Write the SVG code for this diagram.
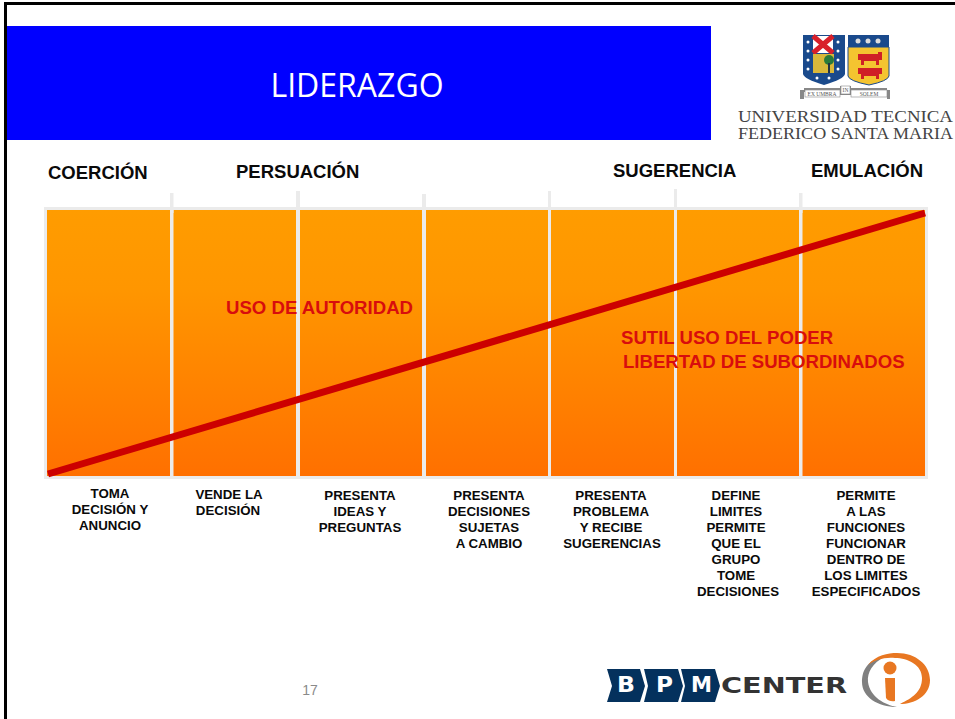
<svg xmlns="http://www.w3.org/2000/svg" width="955" height="719" viewBox="0 0 955 719">
<style>
.h{font:bold 18.500px "Liberation Sans",Arial,sans-serif;fill:#0a0a0a}
.c{font:bold 13.300px "Liberation Sans",Arial,sans-serif;fill:#0a0a0a;text-anchor:middle}
.r{font:bold 18.600px "Liberation Sans",Arial,sans-serif;fill:#d80d0d}
.s{fill:#ebebeb}
.w{fill:#fff}
.n{fill:#04315d}
.t{font:5.500px "Liberation Serif",serif;fill:#555;text-anchor:middle}
.b{font:900 21px "DejaVu Sans",sans-serif;fill:#fff}
.o{fill:#e87722}
</style>
<defs><linearGradient id="g" x1="0" y1="0" x2="0" y2="1"><stop offset="0" stop-color="#ff9c00"/><stop offset="0.3" stop-color="#ff9600"/><stop offset="1" stop-color="#ff7000"/></linearGradient></defs>
<rect width="955" height="719" fill="#fff"/>
<path d="M5.500 719V3.500H955" fill="none" stroke="#000" stroke-width="3"/>
<rect id="banner" x="7" y="26" width="704" height="114" fill="#0000ff"/>
<text x="357" y="97" text-anchor="middle" style="font:32px 'Open Sans','Liberation Sans',sans-serif;fill:#fff">LIDERAZGO</text>
<g id="headers">
<text class="h" x="48" y="179">COERCIÓN</text><text class="h" x="236" y="178">PERSUACIÓN</text><text class="h" x="613" y="177">SUGERENCIA</text><text class="h" x="811" y="177">EMULACIÓN</text>
</g>
<g id="chart">
<rect class="s" x="44" y="207" width="884" height="272"/>
<rect x="47" y="210" width="123" height="266" fill="url(#g)"/>
<rect x="173.500" y="210" width="122.500" height="266" fill="url(#g)"/>
<rect x="300" y="210" width="122" height="266" fill="url(#g)"/>
<rect x="426" y="210" width="122" height="266" fill="url(#g)"/>
<rect x="551" y="210" width="123" height="266" fill="url(#g)"/>
<rect x="677" y="210" width="122" height="266" fill="url(#g)"/>
<rect x="802.500" y="210" width="122.500" height="266" fill="url(#g)"/>
<rect class="s" x="170" y="193" width="3.500" height="20"/><rect class="s" x="296" y="191" width="4" height="20"/><rect class="s" x="422" y="194" width="4" height="20"/><rect class="s" x="548" y="191" width="3" height="20"/><rect class="s" x="674" y="189" width="3" height="22"/><rect class="s" x="799" y="193" width="3.500" height="20"/>
</g>
<g id="connectors"><line id="trend" x1="48" y1="474" x2="925" y2="213" stroke="#cc0000" stroke-width="7"/></g>
<g id="labels">
<text class="r" x="226" y="314">USO DE AUTORIDAD</text><text class="r" x="621" y="344">SUTIL USO DEL PODER</text><text class="r" x="623" y="368">LIBERTAD DE SUBORDINADOS</text>
</g>
<g id="captions">
<text class="c"><tspan x="110" y="498">TOMA</tspan><tspan x="110" y="514">DECISIÓN Y</tspan><tspan x="110" y="530">ANUNCIO</tspan></text>
<text class="c"><tspan x="229" y="499">VENDE LA</tspan><tspan x="228" y="515">DECISIÓN</tspan></text>
<text class="c"><tspan x="360" y="500">PRESENTA</tspan><tspan x="360" y="516">IDEAS Y</tspan><tspan x="360" y="532">PREGUNTAS</tspan></text>
<text class="c"><tspan x="489" y="500">PRESENTA</tspan><tspan x="489" y="516">DECISIONES</tspan><tspan x="489" y="532">SUJETAS</tspan><tspan x="489" y="548">A CAMBIO</tspan></text>
<text class="c"><tspan x="611" y="500">PRESENTA</tspan><tspan x="611" y="516">PROBLEMA</tspan><tspan x="611" y="532">Y RECIBE</tspan><tspan x="612" y="548">SUGERENCIAS</tspan></text>
<text class="c"><tspan x="736" y="500">DEFINE</tspan><tspan x="736" y="516">LIMITES</tspan><tspan x="736" y="532">PERMITE</tspan><tspan x="736" y="548">QUE EL</tspan><tspan x="736" y="564">GRUPO</tspan><tspan x="736" y="580">TOME</tspan><tspan x="738" y="596">DECISIONES</tspan></text>
<text class="c"><tspan x="866" y="500">PERMITE</tspan><tspan x="866" y="516">A LAS</tspan><tspan x="866" y="532">FUNCIONES</tspan><tspan x="866" y="548">FUNCIONAR</tspan><tspan x="866" y="564">DENTRO DE</tspan><tspan x="866" y="580">LOS LIMITES</tspan><tspan x="866" y="596">ESPECIFICADOS</tspan></text>
</g>
<text x="310" y="695" text-anchor="middle" style="font:14px 'Liberation Sans',sans-serif;fill:#8a8a8a">17</text>
<g id="logo-usm">
<path d="M803 35h42v39q-1 5-21 11q-20-6-21-11z" fill="#1a4a8c"/>
<rect class="w" x="813" y="36" width="20" height="17"/><path d="M813 36l20 17M833 36l-20 17" stroke="#d8202a" stroke-width="5"/>
<rect x="813" y="54" width="21" height="19" fill="#d9b83a"/><circle cx="829" cy="60" r="5" fill="#2a7a3a"/><rect x="828" y="63" width="2" height="10" fill="#234"/>
<g class="w"><circle cx="808" cy="42" r="1.500"/><circle cx="808" cy="51" r="1.500"/><circle cx="808" cy="60" r="1.500"/><circle cx="808" cy="69" r="1.500"/><circle cx="838" cy="42" r="1.500"/><circle cx="838" cy="51" r="1.500"/><circle cx="838" cy="60" r="1.500"/><circle cx="838" cy="69" r="1.500"/><circle cx="817" cy="78" r="1.500"/><circle cx="829" cy="78" r="1.500"/></g>
<rect x="848" y="35" width="41" height="12" fill="#1a4a8c"/><path d="M848 47h41v29q-1 5-20 9q-20-4-21-9z" fill="#f4c430" stroke="#1a4a8c"/>
<g fill="#ddd"><circle cx="858" cy="41" r="2.500"/><circle cx="868" cy="41" r="2.500"/><circle cx="878" cy="41" r="2.500"/></g>
<path d="M858 54h20v-2h4v8h-3v5h-3v-4h-12v4h-3v-5h-3zM858 68h24v6h-3v5h-3v-3h-12v3h-3v-5h-3z" fill="#cf1f26"/>
<path d="M800 90h4v-2h36v-2h11v2h36v2h3v9h-3v-7h-36v3h-11v-3h-36v7h-4z" fill="#888"/>
<rect class="w" x="805" y="90" width="35" height="7" stroke="#888" stroke-width=".6"/><rect class="w" x="851" y="90" width="36" height="7" stroke="#888" stroke-width=".6"/><rect class="w" x="841" y="86" width="9" height="8" stroke="#888" stroke-width=".6"/>
<text class="t" x="822" y="96">EX UMBRA</text><text class="t" x="845.500" y="92">IN</text><text class="t" x="869" y="96">SOLEM</text>
<text x="738" y="122" style="font:16px 'Liberation Serif',serif;fill:#444" textLength="215" lengthAdjust="spacingAndGlyphs">UNIVERSIDAD TECNICA</text>
<text x="738" y="139" style="font:16px 'Liberation Serif',serif;fill:#444" textLength="215" lengthAdjust="spacingAndGlyphs">FEDERICO SANTA MARIA</text>
</g>
<g id="logo-bpm">
<path class="n" d="M607 669h33l5 17l-5 16h-33l5-16z"/><path class="n" d="M644 669h34l5 17l-5 16h-34l4-16z"/><path class="n" d="M681 669h34l5 17l-5 16h-34l4-16z"/>
<text class="b" x="617" y="692" textLength="18" lengthAdjust="spacingAndGlyphs">B</text><text class="b" x="656" y="692" textLength="17" lengthAdjust="spacingAndGlyphs">P</text><text class="b" x="691" y="692" textLength="21" lengthAdjust="spacingAndGlyphs">M</text>
<text x="721" y="693" style="font:900 21px 'DejaVu Sans',sans-serif;fill:#333" textLength="126" lengthAdjust="spacingAndGlyphs">CENTER</text>
<path d="M884 657C866 660 862 672 862 682C862 697 878 707 897 707C885 705 870 697 868 682C867 672 873 663 884 657z" fill="#808080"/>
<path class="o" d="M868 665C876 655 888 653 897 653C916 653 930 665 930 680C930 696 914 704 900 704C912 698 922 692 922 678C922 665 908 658 895 658C884 657 875 660 868 665z"/>
<circle class="o" cx="890" cy="668" r="6.500"/>
<path class="o" d="M885 678h10v23q-6 1-9-3z"/>
</g>
</svg>
